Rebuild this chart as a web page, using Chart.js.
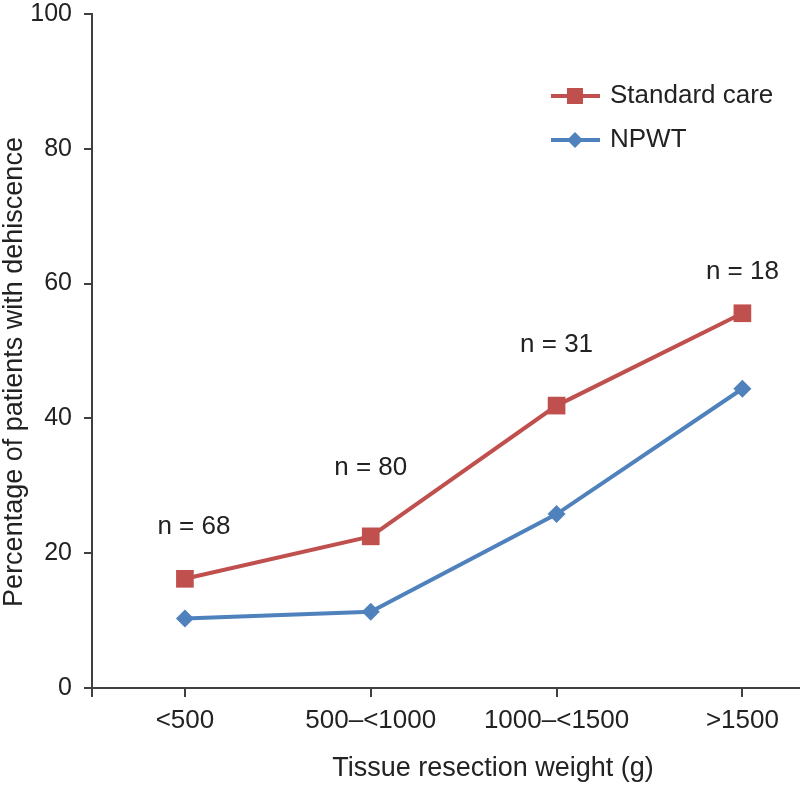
<!DOCTYPE html>
<html>
<head>
<meta charset="utf-8">
<script src="https://cdn.jsdelivr.net/npm/chart.js@4.4.1/dist/chart.umd.min.js"></script>
<style>
  html, body { margin: 0; padding: 0; background: #fff; overflow: hidden; }
  #wrap { width: 800px; height: 785px; }
</style>
</head>
<body>
<div id="wrap"><canvas id="dehiscenceChart" width="800" height="785"></canvas></div>
<script>
// Données
const categories = ['<500', '500\u2013<1000', '1000\u2013<1500', '>1500'];
const standardCare = [16.2, 22.5, 41.9, 55.6];
const npwt = [10.3, 11.3, 25.8, 44.4];
const sampleSizes = [68, 80, 31, 18];
const yTicks = [0, 20, 40, 60, 80, 100];

const FONT = '"Liberation Sans", Arial, sans-serif';
const RED = '#C0504D';
const BLUE = '#4F81BD';
const AXIS = '#404040';
const TEXT = '#222222';

// hauteur des étiquettes "n = ..." (en unités de l'axe y)
const nLabelY = [23.9, 32.6, 50.9, 61.7];
const nLabelDx = [9, 0, 0, 0];

const annotations = {
    id: 'annotations',
    afterDatasetsDraw(chart) {
        const { ctx, scales: { x, y } } = chart;
        ctx.save();
        ctx.font = '26px ' + FONT;
        ctx.fillStyle = TEXT;
        ctx.textAlign = 'center';
        ctx.textBaseline = 'middle';
        sampleSizes.forEach((n, i) => {
            ctx.fillText('n = ' + n, x.getPixelForValue(i) + nLabelDx[i], y.getPixelForValue(nLabelY[i]));
        });

        // titres des axes (décalés comme dans l'original)
        ctx.font = '27px ' + FONT;
        ctx.fillText('Tissue resection weight (g)', 493, 769);
        ctx.save();
        ctx.translate(15, 372);
        ctx.rotate(-Math.PI / 2);
        ctx.fillText('Percentage of patients with dehiscence', 0, 0);
        ctx.restore();

        // légende
        ctx.font = '26px ' + FONT;
        const items = [
            { text: 'Standard care', color: RED, style: 'rect', top: 96 },
            { text: 'NPWT', color: BLUE, style: 'diamond', top: 140 }
        ];
        items.forEach(it => {
            ctx.strokeStyle = it.color;
            ctx.lineWidth = 4;
            ctx.beginPath();
            ctx.moveTo(551, it.top);
            ctx.lineTo(600, it.top);
            ctx.stroke();
            ctx.fillStyle = it.color;
            ctx.beginPath();
            if (it.style === 'rect') {
                ctx.rect(567, it.top - 8, 16, 16);
            } else {
                ctx.moveTo(575, it.top - 8);
                ctx.lineTo(583, it.top);
                ctx.lineTo(575, it.top + 8);
                ctx.lineTo(567, it.top);
                ctx.closePath();
            }
            ctx.fill();
            ctx.fillStyle = TEXT;
            ctx.textAlign = 'left';
            ctx.fillText(it.text, 610, it.top);
        });
        ctx.restore();
    }
};

const ctx = document.getElementById('dehiscenceChart').getContext('2d');
const dehiscenceChart = new Chart(ctx, {
    type: 'line',
    data: {
        datasets: [{
            label: 'Standard care',
            data: standardCare.map((v, i) => ({ x: i, y: v })),
            borderColor: RED,
            backgroundColor: RED,
            borderWidth: 4,
            pointStyle: 'rect',
            pointRadius: 12.5,
            pointHoverRadius: 12.5,
            pointBorderWidth: 0
        }, {
            label: 'NPWT',
            data: npwt.map((v, i) => ({ x: i, y: v })),
            borderColor: BLUE,
            backgroundColor: BLUE,
            borderWidth: 4,
            pointStyle: 'rectRot',
            pointRadius: 9,
            pointHoverRadius: 9,
            pointBorderWidth: 0
        }]
    },
    options: {
        responsive: false,
        animation: false,
        layout: { autoPadding: false, padding: { top: 14, right: 0, left: 0, bottom: 0 } },
        plugins: {
            legend: { display: false },
            tooltip: { enabled: false }
        },
        scales: {
            x: {
                type: 'linear',
                min: -0.5,
                max: 3.31,
                afterBuildTicks(scale) {
                    scale.ticks = [-0.5, 0, 1, 2, 3].map(v => ({ value: v }));
                },
                afterFit(scale) {
                    scale.height = 97;
                    scale.paddingLeft = 0;
                    scale.paddingRight = 0;
                },
                ticks: {
                    color: TEXT,
                    font: { family: FONT, size: 26 },
                    padding: 8,
                    maxRotation: 0,
                    autoSkip: false,
                    callback: v => Number.isInteger(v) ? categories[v] : ''
                },
                grid: { drawOnChartArea: false, drawTicks: true, tickLength: 9, color: AXIS, lineWidth: 2 },
                border: { color: AXIS, width: 2 }
            },
            y: {
                min: 0,
                max: 100,
                afterBuildTicks(scale) {
                    scale.ticks = yTicks.map(v => ({ value: v }));
                },
                afterFit(scale) {
                    scale.width = 92;
                    scale.paddingTop = 0;
                    scale.paddingBottom = 0;
                },
                ticks: {
                    color: TEXT,
                    font: { family: FONT, size: 25 },
                    padding: 12
                },
                grid: { drawOnChartArea: false, drawTicks: true, tickLength: 8, color: AXIS, lineWidth: 2 },
                border: { color: AXIS, width: 2 }
            }
        }
    },
    plugins: [annotations]
});
</script>
</body>
</html>
